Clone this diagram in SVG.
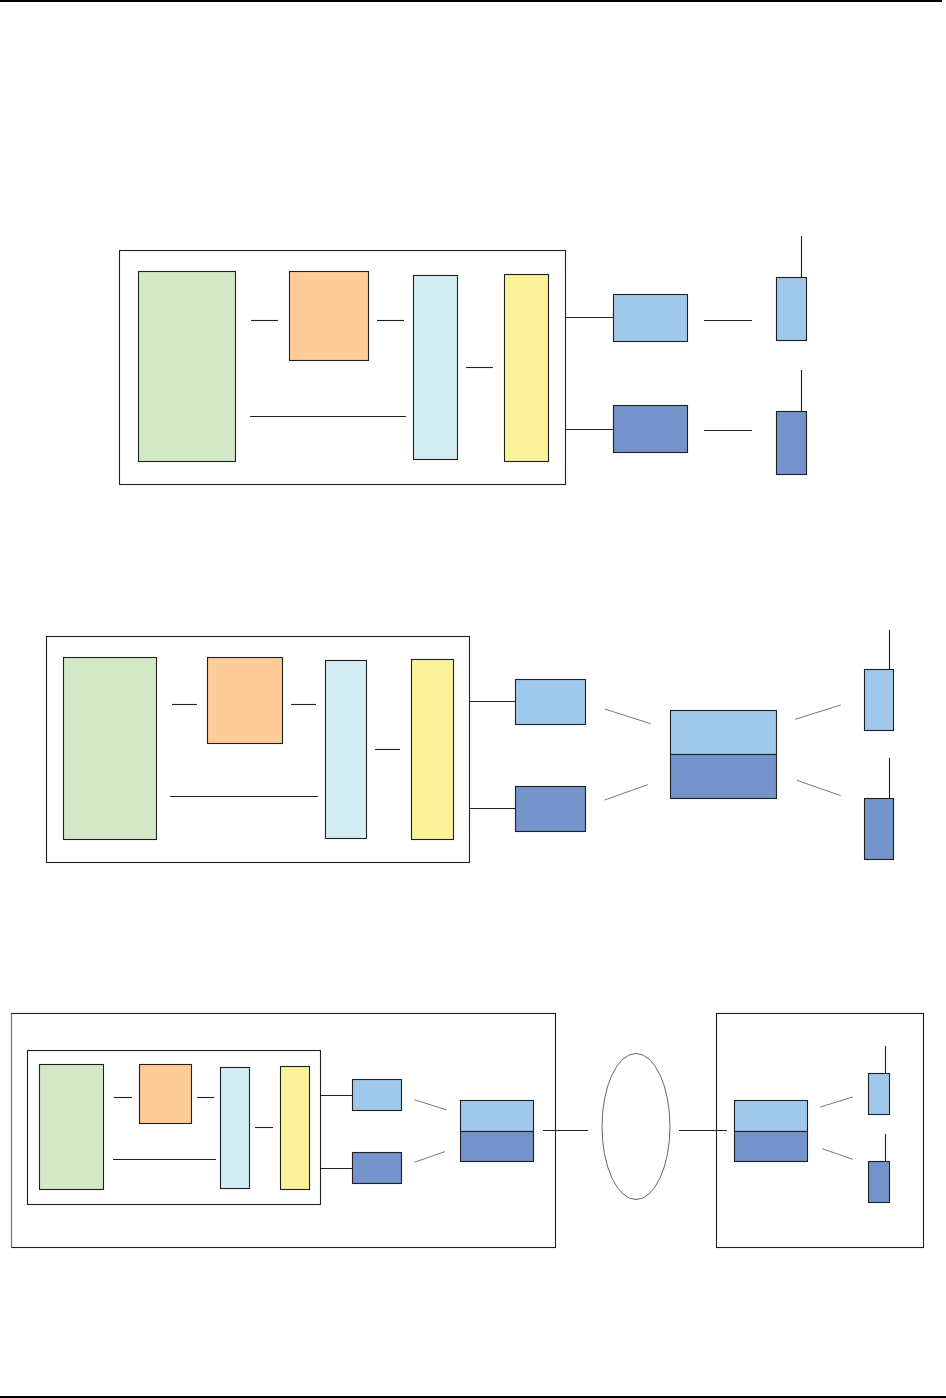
<svg xmlns="http://www.w3.org/2000/svg" width="946" height="1398" viewBox="0 0 946 1398">
<style>
.b{stroke:#231f20;stroke-width:1.1}
.g{fill:#d2e8c6}.o{fill:#fdcc98}.c{fill:#d4edf4}.y{fill:#faf39a}.l{fill:#9fc8ea}.d{fill:#7393ca}.w{fill:none}
.ln{stroke:#231f20;stroke-width:1.1;fill:none}
.gy{stroke:#777;stroke-width:1;fill:none}
</style>
<rect x="0" y="0" width="942" height="2" fill="#000"/>
<rect x="0" y="1396" width="946" height="2" fill="#000"/>

<!-- Section 1 -->
<g id="s1-frame"><rect class="b w" x="119.5" y="250.5" width="446" height="234"/></g>
<g id="s1-green"><rect class="b g" x="138.5" y="271.5" width="97" height="190"/></g>
<g id="s1-orange"><rect class="b o" x="289.5" y="271.5" width="79" height="89"/></g>
<g id="s1-cyan"><rect class="b c" x="413.5" y="275.5" width="44" height="184"/></g>
<g id="s1-yellow"><rect class="b y" x="504.5" y="274.5" width="44" height="187"/></g>
<g id="s1-lb"><rect class="b l" x="613.5" y="294.5" width="74" height="47"/></g>
<g id="s1-db"><rect class="b d" x="613.5" y="405.5" width="74" height="47"/></g>
<g id="s1-ant1"><rect class="b l" x="776.5" y="277.5" width="30" height="63"/><line class="ln" x1="801.5" y1="236" x2="801.5" y2="277.5"/></g>
<g id="s1-ant2"><rect class="b d" x="776.5" y="411.5" width="30" height="63"/><line class="ln" x1="801.5" y1="370" x2="801.5" y2="411.5"/></g>

<!-- Section 2 -->
<g id="s2-frame"><rect class="b w" x="46.5" y="636.5" width="423" height="226"/></g>
<g id="s2-green"><rect class="b g" x="63.5" y="657.5" width="93" height="182"/></g>
<g id="s2-orange"><rect class="b o" x="207.5" y="657.5" width="75" height="86"/></g>
<g id="s2-cyan"><rect class="b c" x="325.5" y="660.5" width="41" height="178"/></g>
<g id="s2-yellow"><rect class="b y" x="411.5" y="659.5" width="42" height="180"/></g>
<g id="s2-lb"><rect class="b l" x="515.5" y="679.5" width="70" height="45"/></g>
<g id="s2-db"><rect class="b d" x="515.5" y="786.5" width="70" height="45"/></g>
<g id="s2-hub"><rect class="b l" x="670.5" y="710.5" width="106" height="44"/><rect class="b d" x="670.5" y="754.5" width="106" height="44"/></g>
<g id="s2-ant1"><rect class="b l" x="864.5" y="669.5" width="29" height="61"/><line class="ln" x1="889.5" y1="630" x2="889.5" y2="669.5"/></g>
<g id="s2-ant2"><rect class="b d" x="864.5" y="798.5" width="29" height="61"/><line class="ln" x1="889.5" y1="758" x2="889.5" y2="798.5"/></g>

<!-- Section 3 -->
<g id="s3-frame"><rect class="b w" x="11.5" y="1013.5" width="544" height="234"/><line x1="11.5" y1="1013.5" x2="11.5" y2="1247.5" stroke="#777" stroke-width="1.1"/></g>
<g id="s3-inner"><rect class="b w" x="27.5" y="1050.5" width="293" height="154"/></g>
<g id="s3-green"><rect class="b g" x="39.5" y="1064.5" width="64" height="125"/></g>
<g id="s3-orange"><rect class="b o" x="139.5" y="1064.5" width="52" height="59"/></g>
<g id="s3-cyan"><rect class="b c" x="220.5" y="1067.5" width="29" height="121"/></g>
<g id="s3-yellow"><rect class="b y" x="280.5" y="1066.5" width="29" height="123"/></g>
<g id="s3-lb"><rect class="b l" x="352.5" y="1079.5" width="49" height="31"/></g>
<g id="s3-db"><rect class="b d" x="352.5" y="1152.5" width="49" height="31"/></g>
<g id="s3-hub"><rect class="b l" x="460.5" y="1100.5" width="73" height="31"/><rect class="b d" x="460.5" y="1131.5" width="73" height="30"/></g>
<g id="s3-cloud"><ellipse cx="636" cy="1126.5" rx="34" ry="73" fill="none" stroke="#666" stroke-width="1"/></g>
<g id="s3-remote"><rect class="b w" x="716.5" y="1013.5" width="207" height="234"/></g>
<g id="s3-hub2"><rect class="b l" x="734.5" y="1100.5" width="73" height="31"/><rect class="b d" x="734.5" y="1131.5" width="73" height="30"/></g>
<g id="s3-ant1"><rect class="b l" x="868.5" y="1073.5" width="21" height="41"/><line class="ln" x1="885.5" y1="1046" x2="885.5" y2="1073.5"/></g>
<g id="s3-ant2"><rect class="b d" x="868.5" y="1161.5" width="21" height="41"/><line class="ln" x1="885.5" y1="1134" x2="885.5" y2="1161.5"/></g>

<g id="connectors">
<!-- s1 -->
<line class="ln" x1="251" y1="320.5" x2="278" y2="320.5"/>
<line class="ln" x1="377" y1="320.5" x2="404" y2="320.5"/>
<line class="ln" x1="466" y1="367.5" x2="493" y2="367.5"/>
<line class="ln" x1="250" y1="416.5" x2="406" y2="416.5"/>
<line class="ln" x1="565.5" y1="317.5" x2="613.5" y2="317.5"/>
<line class="ln" x1="565.5" y1="429.5" x2="613.5" y2="429.5"/>
<line class="ln" x1="704" y1="320.5" x2="752" y2="320.5"/>
<line class="ln" x1="704" y1="430.5" x2="752" y2="430.5"/>
<!-- s2 -->
<line class="ln" x1="172" y1="704.5" x2="197" y2="704.5"/>
<line class="ln" x1="291" y1="704.5" x2="316" y2="704.5"/>
<line class="ln" x1="375" y1="749.5" x2="400" y2="749.5"/>
<line class="ln" x1="170" y1="796.5" x2="318" y2="796.5"/>
<line class="ln" x1="469.5" y1="701.5" x2="515.5" y2="701.5"/>
<line class="ln" x1="469.5" y1="808.5" x2="515.5" y2="808.5"/>
<line class="gy" x1="604.7" y1="709" x2="650.7" y2="723.7"/>
<line class="gy" x1="604.7" y1="800" x2="647.7" y2="784.7"/>
<line class="gy" x1="795.3" y1="719.3" x2="840.7" y2="705"/>
<line class="gy" x1="797" y1="780.3" x2="840.7" y2="795.7"/>
<!-- s3 -->
<line class="ln" x1="114" y1="1097.5" x2="132" y2="1097.5"/>
<line class="ln" x1="197" y1="1097.5" x2="214" y2="1097.5"/>
<line class="ln" x1="255" y1="1127.5" x2="273" y2="1127.5"/>
<line class="ln" x1="113" y1="1159.5" x2="216" y2="1159.5"/>
<line class="ln" x1="320.5" y1="1095.5" x2="352.5" y2="1095.5"/>
<line class="ln" x1="320.5" y1="1168.5" x2="352.5" y2="1168.5"/>
<line class="gy" x1="414.3" y1="1099.7" x2="446.7" y2="1110"/>
<line class="gy" x1="414.3" y1="1162.3" x2="444.7" y2="1151.7"/>
<line class="ln" x1="543" y1="1130.5" x2="588" y2="1130.5"/>
<line class="ln" x1="679" y1="1130.5" x2="727" y2="1130.5"/>
<line class="gy" x1="820.3" y1="1107" x2="852.7" y2="1097"/>
<line class="gy" x1="822.3" y1="1148.7" x2="852.7" y2="1159.3"/>
</g>
</svg>
